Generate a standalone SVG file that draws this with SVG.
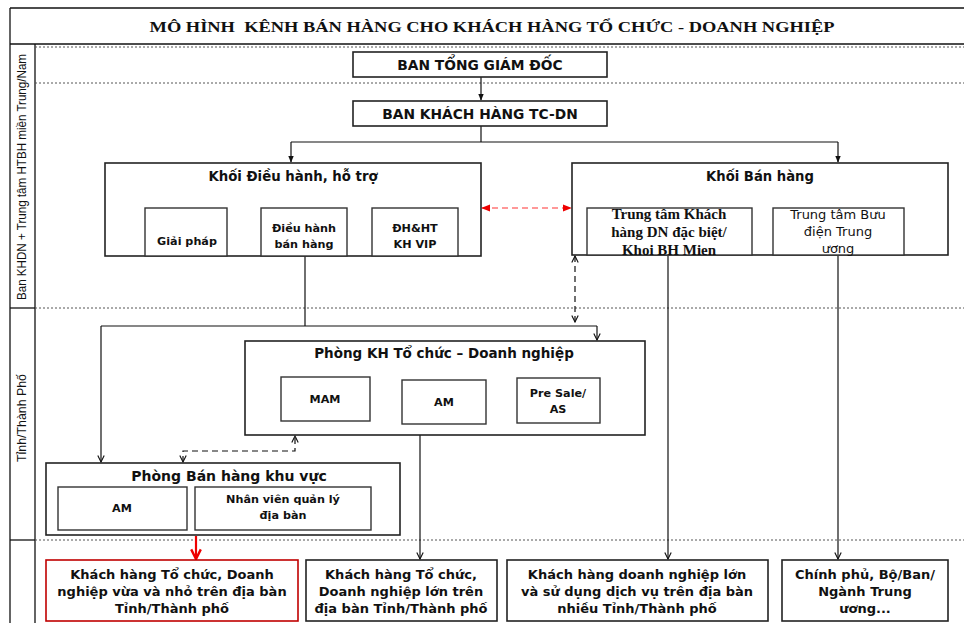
<svg xmlns="http://www.w3.org/2000/svg" width="964" height="623" viewBox="0 0 964 623">
<defs>
<style>
.frame{fill:none;stroke:#111;stroke-width:1.3}
.dot{fill:none;stroke:#555;stroke-width:1;stroke-dasharray:2,2}
.box{fill:#fff;stroke:#222;stroke-width:1.6}
.sub{fill:#fff;stroke:#333;stroke-width:1.4}
.t{font-family:"DejaVu Sans","Liberation Sans",sans-serif;font-weight:bold;fill:#111;text-anchor:middle}
.s{font-size:11.2px}
.b{font-size:13px}
.n{font-family:"DejaVu Sans","Liberation Sans",sans-serif;font-size:13px;fill:#111;text-anchor:middle}
.sf{font-family:"Liberation Serif","Times New Roman",serif;font-weight:bold;font-size:15px;fill:#111;text-anchor:middle}
.lane{font-family:"Liberation Sans",Arial,sans-serif;font-size:12px;fill:#111;text-anchor:middle}
.con{fill:none;stroke:#111;stroke-width:1.2}
.dash{fill:none;stroke:#111;stroke-width:1.2;stroke-dasharray:6,4}
</style>
<marker id="ah" viewBox="0 0 10 10" refX="9" refY="5" markerWidth="8" markerHeight="8" orient="auto-start-reverse" markerUnits="userSpaceOnUse">
<path d="M1,1 L9,5 L1,9" fill="none" stroke="#111" stroke-width="1.4"/>
</marker>
<marker id="ahf" viewBox="0 0 10 10" refX="9" refY="5" markerWidth="7" markerHeight="7" orient="auto-start-reverse" markerUnits="userSpaceOnUse">
<path d="M0,1 L10,5 L0,9 Z" fill="#111"/>
</marker>
<marker id="red" viewBox="0 0 10 10" refX="9" refY="5" markerWidth="9" markerHeight="9" orient="auto-start-reverse" markerUnits="userSpaceOnUse">
<path d="M0,1 L10,5 L0,9 Z" fill="#e00"/>
</marker>
<marker id="redv" viewBox="0 0 10 10" refX="9" refY="5" markerWidth="12" markerHeight="12" orient="auto" markerUnits="userSpaceOnUse">
<path d="M1,1 L9,5 L1,9" fill="none" stroke="#e00" stroke-width="2"/>
</marker>
</defs>
<rect width="964" height="623" fill="#fff"/>

<g id="frame">
<line class="frame" x1="10" y1="8" x2="964" y2="8"/>
<line class="frame" x1="10" y1="8" x2="10" y2="623"/>
<line class="frame" x1="10" y1="44" x2="964" y2="44"/>
<line class="frame" x1="35" y1="44" x2="35" y2="623"/>
<line class="frame" x1="10" y1="308" x2="35" y2="308"/>
<line class="frame" x1="10" y1="540" x2="35" y2="540"/>
<line class="dot" x1="35" y1="47" x2="964" y2="47"/>
<line class="dot" x1="35" y1="83" x2="964" y2="83"/>
<line class="dot" x1="35" y1="308" x2="964" y2="308"/>
<line class="dot" x1="35" y1="540" x2="964" y2="540"/>
<text x="492" y="32" font-family="'Liberation Serif','Times New Roman',serif" font-weight="bold" font-size="15" text-anchor="middle" textLength="685" lengthAdjust="spacingAndGlyphs" xml:space="preserve" fill="#111">MÔ HÌNH  KÊNH BÁN HÀNG CHO KHÁCH HÀNG TỔ CHỨC - DOANH NGHIỆP</text>
<text class="lane" transform="translate(26,177) rotate(-90)" textLength="246" lengthAdjust="spacingAndGlyphs">Ban KHDN + Trung tâm HTBH miền Trung/Nam</text>
<text class="lane" transform="translate(26,418) rotate(-90)" textLength="88" lengthAdjust="spacingAndGlyphs">Tỉnh/Thành Phố</text>
</g>

<g id="connectors">
<line class="con" x1="481" y1="77" x2="481" y2="100" marker-end="url(#ahf)"/>
<path class="con" d="M481,126 V142 M291,142 H838"/>
<line class="con" x1="291" y1="142" x2="291" y2="162" marker-end="url(#ahf)"/>
<line class="con" x1="838" y1="142" x2="838" y2="162" marker-end="url(#ahf)"/>
<line x1="482" y1="208" x2="571" y2="208" stroke="#f33" stroke-width="1.2" stroke-dasharray="6,4" marker-start="url(#red)" marker-end="url(#red)"/>
<line class="dash" x1="575" y1="256" x2="575" y2="322" marker-start="url(#ah)" marker-end="url(#ah)"/>
<path class="con" d="M305,256 V326 M101,326 H597"/>
<line class="con" x1="101" y1="326" x2="101" y2="462" marker-end="url(#ah)"/>
<line class="con" x1="597" y1="326" x2="597" y2="340" marker-end="url(#ah)"/>
<path class="dash" d="M183,462 V451 H295 V436" marker-start="url(#ah)" marker-end="url(#ah)"/>
<line class="con" x1="420" y1="435" x2="420" y2="559" marker-end="url(#ah)"/>
<line class="con" x1="668" y1="256" x2="668" y2="559" marker-end="url(#ah)"/>
<line class="con" x1="838" y1="256" x2="838" y2="559" marker-end="url(#ah)"/>
<line x1="196" y1="536" x2="196" y2="559" stroke="#e00" stroke-width="2.2" marker-end="url(#redv)"/>
</g>

<g id="ban-tong-giam-doc">
<rect class="box" x="353" y="52" width="254" height="25"/>
<text class="t" x="480" y="70" font-size="13.8">BAN TỔNG GIÁM ĐỐC</text>
</g>
<g id="ban-khach-hang">
<rect class="box" x="353" y="101" width="254" height="25"/>
<text class="t" x="480" y="119" font-size="13.8">BAN KHÁCH HÀNG TC-DN</text>
</g>

<g id="khoi-dieu-hanh">
<rect class="box" x="105" y="163" width="376" height="93"/>
<text class="t" x="293" y="181" font-size="13.3">Khối Điều hành, hỗ trợ</text>
</g>
<g id="giai-phap">
<rect class="sub" x="145" y="208" width="82" height="48"/>
<text class="t s" x="187" y="245">Giải pháp</text>
</g>
<g id="dieu-hanh-ban-hang">
<rect class="sub" x="261" y="208" width="86" height="48"/>
<text class="t s" x="304" y="232">Điều hành</text>
<text class="t s" x="304" y="248">bán hàng</text>
</g>
<g id="dh-ht-kh-vip">
<rect class="sub" x="372" y="208" width="86" height="48"/>
<text class="t s" x="415" y="232">ĐH&amp;HT</text>
<text class="t s" x="415" y="248">KH VIP</text>
</g>

<g id="khoi-ban-hang">
<rect class="box" x="572" y="163" width="376" height="92"/>
<text class="t" x="760" y="181" font-size="13.2">Khối Bán hàng</text>
</g>
<g id="trung-tam-kh-dn">
<rect class="sub" x="587" y="208" width="165" height="47"/>
<text class="sf" x="669" y="219">Trung tâm Khách</text>
<text class="sf" x="669" y="237">hàng DN đặc biệt/</text>
<text class="sf" x="669" y="255">Khoi BH Mien</text>
</g>
<g id="trung-tam-buu-dien">
<rect class="sub" x="773" y="208" width="131" height="47"/>
<text class="n" x="838" y="219">Trung tâm Bưu</text>
<text class="n" x="838" y="236">điện Trung</text>
<text class="n" x="838" y="253">ương</text>
</g>

<g id="phong-kh-tc-dn">
<rect class="box" x="245" y="341" width="400" height="94"/>
<text class="t" x="444" y="358" font-size="13.5">Phòng KH Tổ chức – Doanh nghiệp</text>
</g>
<g id="mam">
<rect class="sub" x="281" y="377" width="89" height="44"/>
<text class="t s" x="325" y="403">MAM</text>
</g>
<g id="am-1">
<rect class="sub" x="402" y="380" width="84" height="44"/>
<text class="t s" x="444" y="406">AM</text>
</g>
<g id="pre-sale">
<rect class="sub" x="517" y="378" width="83" height="45"/>
<text class="t s" x="558" y="397">Pre Sale/</text>
<text class="t s" x="558" y="413">AS</text>
</g>

<g id="phong-ban-hang-khu-vuc">
<rect class="box" x="46" y="463" width="354" height="72"/>
<text class="t" x="229" y="481" font-size="14">Phòng Bán hàng khu vực</text>
</g>
<g id="am-2">
<rect class="sub" x="58" y="487" width="129" height="43"/>
<text class="t s" x="122" y="512">AM</text>
</g>
<g id="nhan-vien">
<rect class="sub" x="195" y="487" width="176" height="43"/>
<text class="t s" x="283" y="503">Nhân viên quản lý</text>
<text class="t s" x="283" y="519">địa bàn</text>
</g>

<g id="kh-vua-nho">
<rect x="46" y="560" width="252" height="61" fill="#fff" stroke="#c00000" stroke-width="1.6"/>
<text class="t b" x="172" y="579">Khách hàng Tổ chức, Doanh</text>
<text class="t b" x="172" y="596">nghiệp vừa và nhỏ trên địa bàn</text>
<text class="t b" x="172" y="613">Tỉnh/Thành phố</text>
</g>
<g id="kh-lon">
<rect class="box" x="306" y="560" width="191" height="61"/>
<text class="t b" x="401" y="579">Khách hàng Tổ chức,</text>
<text class="t b" x="401" y="596">Doanh nghiệp lớn trên</text>
<text class="t b" x="401" y="613">địa bàn Tỉnh/Thành phố</text>
</g>
<g id="kh-nhieu-tinh">
<rect class="box" x="507" y="560" width="261" height="61"/>
<text class="t b" x="637" y="579">Khách hàng doanh nghiệp lớn</text>
<text class="t b" x="637" y="596">và sử dụng dịch vụ trên địa bàn</text>
<text class="t b" x="637" y="613">nhiều Tỉnh/Thành phố</text>
</g>
<g id="chinh-phu">
<rect class="box" x="782" y="560" width="166" height="61"/>
<text class="t b" x="865" y="579">Chính phủ, Bộ/Ban/</text>
<text class="t b" x="865" y="596">Ngành Trung</text>
<text class="t b" x="865" y="613">ương...</text>
</g>
</svg>
